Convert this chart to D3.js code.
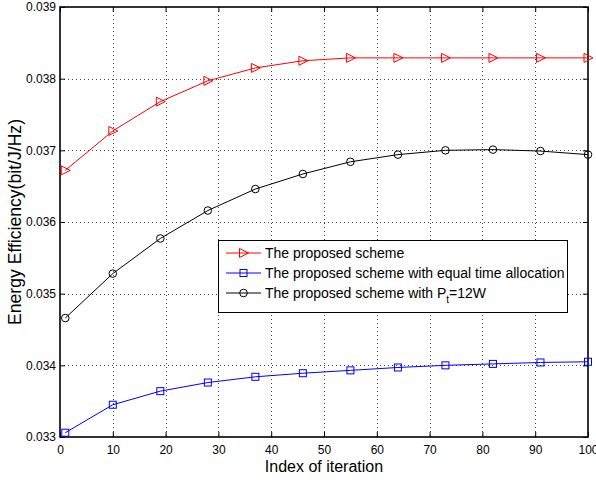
<!DOCTYPE html>
<html>
<head>
<meta charset="utf-8">
<script src="https://cdn.jsdelivr.net/npm/d3@7"></script>
<style>
  html, body { margin: 0; padding: 0; background: #fff; }
  svg { display: block; font-family: "Liberation Sans", Arial, Helvetica, sans-serif; }
</style>
</head>
<body>
<div id="chart"></div>
<script>
// ---- Data ----
const iterations = [1, 10, 19, 28, 37, 46, 55, 64, 73, 82, 91, 100];
const proposed = [0.03672, 0.03727, 0.03768, 0.03797, 0.03815, 0.03825, 0.03829, 0.03829, 0.03829, 0.03829, 0.03829, 0.03829];
const equalTime = [0.03306, 0.03345, 0.03364, 0.03376, 0.03384, 0.03389, 0.03393, 0.03397, 0.03400, 0.03402, 0.03404, 0.03405];
const pt12 = [0.03466, 0.03528, 0.03577, 0.03616, 0.03646, 0.03667, 0.03684, 0.03694, 0.03700, 0.03701, 0.03699, 0.03694];
const xTicks = [0, 10, 20, 30, 40, 50, 60, 70, 80, 90, 100];
const yTicks = [0.033, 0.034, 0.035, 0.036, 0.037, 0.038, 0.039];
const xLabel = "Index of iteration";
const yLabel = "Energy Efficiency(bit/J/Hz)";

const series = [
  { name: "The proposed scheme", values: proposed, color: "#ff0000", marker: "triangle" },
  { name: "The proposed scheme with equal time allocation", values: equalTime, color: "#0000ff", marker: "square" },
  { name: "The proposed scheme with P", sub: "t", tail: "=12W", values: pt12, color: "#000000", marker: "circle" }
];

// ---- Layout ----
const W = 596, H = 481;
const m = { left: 60, right: 8, top: 7, bottom: 44 };
const svg = d3.select("#chart").append("svg").attr("width", W).attr("height", H);

const x = d3.scaleLinear().domain([0, 100]).range([m.left, W - m.right]);
const y = d3.scaleLinear().domain([0.033, 0.039]).range([H - m.bottom, m.top]);

// grid
const grid = svg.append("g").attr("stroke", "#444").attr("stroke-width", 1).attr("stroke-dasharray", "1,3");
grid.selectAll("line.gx").data(xTicks.slice(1, -1)).join("line")
  .attr("x1", d => Math.round(x(d)) + 0.5).attr("x2", d => Math.round(x(d)) + 0.5)
  .attr("y1", y.range()[1]).attr("y2", y.range()[0]);
grid.selectAll("line.gy").data(yTicks.slice(1, -1)).join("line")
  .attr("y1", d => Math.round(y(d)) + 0.5).attr("y2", d => Math.round(y(d)) + 0.5)
  .attr("x1", x.range()[0]).attr("x2", x.range()[1]);

// axes
function styleAxis(g, showText) {
  g.selectAll(".domain").remove();
  g.selectAll(".tick line").attr("stroke", "#000").attr("stroke-width", 1);
  g.selectAll(".tick text").attr("fill", "#000").style("font-size", "12px");
  if (!showText) g.selectAll(".tick text").remove();
}
svg.append("g").attr("transform", `translate(0,${y.range()[0]})`)
  .call(d3.axisBottom(x).tickValues(xTicks).tickSizeInner(-5).tickSizeOuter(0).tickPadding(8).tickFormat(d3.format("d")))
  .call(g => styleAxis(g, true));
svg.append("g").attr("transform", `translate(0,${y.range()[1]})`)
  .call(d3.axisTop(x).tickValues(xTicks).tickSizeInner(-5).tickSizeOuter(0))
  .call(g => styleAxis(g, false));
svg.append("g").attr("transform", `translate(${x.range()[0]},0)`)
  .call(d3.axisLeft(y).tickValues(yTicks).tickSizeInner(-5).tickSizeOuter(0).tickPadding(4).tickFormat(d3.format(".3f")))
  .call(g => styleAxis(g, true));
svg.append("g").attr("transform", `translate(${x.range()[1]},0)`)
  .call(d3.axisRight(y).tickValues(yTicks).tickSizeInner(-5).tickSizeOuter(0))
  .call(g => styleAxis(g, false));

// frame
svg.append("rect")
  .attr("x", x.range()[0]).attr("y", y.range()[1])
  .attr("width", x.range()[1] - x.range()[0]).attr("height", y.range()[0] - y.range()[1])
  .attr("fill", "none").attr("stroke", "#000").attr("stroke-width", 1.6);

// markers
function drawMarker(g, type, cx, cy, color) {
  if (type === "triangle") {
    g.append("path").attr("d", `M${cx - 4},${cy - 4.5}L${cx + 5},${cy}L${cx - 4},${cy + 4.5}Z`)
      .attr("fill", "none").attr("stroke", color).attr("stroke-width", 1);
  } else if (type === "square") {
    g.append("rect").attr("x", cx - 3.5).attr("y", cy - 3.5).attr("width", 7).attr("height", 7)
      .attr("fill", "none").attr("stroke", color).attr("stroke-width", 1);
  } else {
    g.append("circle").attr("cx", cx).attr("cy", cy).attr("r", 3.8)
      .attr("fill", "none").attr("stroke", color).attr("stroke-width", 1);
  }
}

const line = d3.line().x(d => x(d[0])).y(d => y(d[1]));
series.forEach(s => {
  const pts = iterations.map((it, i) => [it, s.values[i]]);
  svg.append("path").datum(pts).attr("d", line)
    .attr("fill", "none").attr("stroke", s.color).attr("stroke-width", 1);
  const g = svg.append("g");
  pts.forEach(p => drawMarker(g, s.marker, x(p[0]), y(p[1]), s.color));
});

// legend
const lg = svg.append("g");
const lx = 218, ly = 240, lw = 349, lh = 72;
lg.append("rect").attr("x", lx + 0.5).attr("y", ly + 0.5).attr("width", lw).attr("height", lh)
  .attr("fill", "#fff").attr("stroke", "#000").attr("stroke-width", 1);
series.forEach((s, i) => {
  const cy = ly + 13 + i * 20;
  lg.append("line").attr("x1", lx + 8).attr("x2", lx + 43).attr("y1", cy).attr("y2", cy)
    .attr("stroke", s.color).attr("stroke-width", 1);
  drawMarker(lg, s.marker, lx + 25.5, cy, s.color);
  const t = lg.append("text").attr("x", lx + 47).attr("y", cy + 5).style("font-size", "14px").attr("fill", "#000");
  t.append("tspan").text(s.name);
  if (s.sub) {
    t.append("tspan").attr("dy", 5).style("font-size", "10px").text(s.sub);
    t.append("tspan").attr("dy", -5).text(s.tail);
  }
});

// axis labels
svg.append("text").attr("x", (x.range()[0] + x.range()[1]) / 2).attr("y", 472)
  .attr("text-anchor", "middle").style("font-size", "16px").attr("fill", "#000").text(xLabel);
svg.append("text").attr("transform", `translate(20.5,${(y.range()[0] + y.range()[1]) / 2}) rotate(-90)`)
  .attr("text-anchor", "middle").style("font-size", "17.6px").attr("fill", "#000").text(yLabel);
</script>
</body>
</html>
